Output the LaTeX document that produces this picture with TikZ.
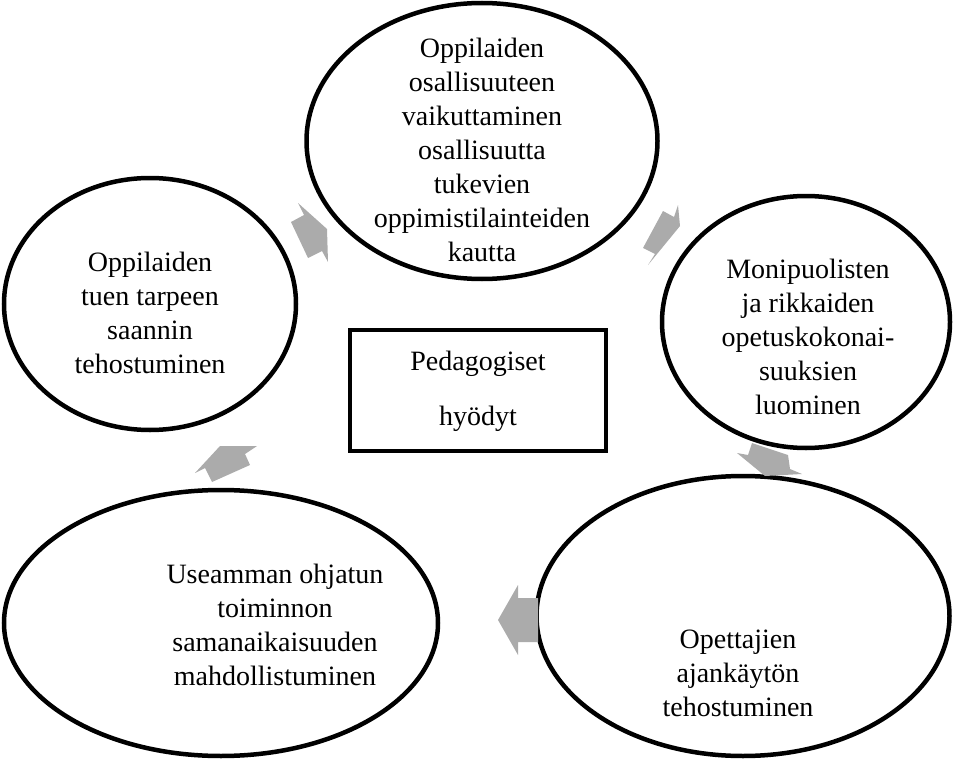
\documentclass[tikz,border=0pt]{standalone}
\usepackage{fontspec}
\setmainfont{Liberation Serif}
\usetikzlibrary{shapes.geometric}
\tikzset{
  bubble/.style={ellipse, draw=black, line width=4.5pt, inner sep=0pt},
  celltext/.style={align=center, font=\fontsize{28}{34}\selectfont, inner sep=0pt},
  cyclearrow/.style={fill=black!33, draw=none},
  centerbox/.style={draw=black, line width=4pt, minimum width=256pt, minimum height=121pt, inner sep=0pt}
}
\begin{document}
\begin{tikzpicture}[x=1pt, y=-1pt]
\useasboundingbox (0,0) rectangle (954,760);

% ellipses of the cycle
\node[bubble, minimum width=351pt, minimum height=276pt] (top) at (482,141) {};
\node[bubble, minimum width=292pt, minimum height=252pt] (left) at (150,304) {};
\node[bubble, minimum width=288pt, minimum height=252pt] (right) at (806,322) {};
\node[bubble, minimum width=413pt, minimum height=280pt] (botright) at (743,616) {};
\node[bubble, minimum width=434pt, minimum height=266pt] (botleft) at (221,623) {};

% texts inside the ellipses
\node[celltext] (ttop) at (482,150) {Oppilaiden\\osallisuuteen\\vaikuttaminen\\osallisuutta\\tukevien\\oppimistilainteiden\\kautta};
\node[celltext] (tleft) at (150,313) {Oppilaiden\\tuen tarpeen\\saannin\\tehostuminen};
\node[celltext] (tright) at (808,337) {Monipuolisten\\ja rikkaiden\\opetuskokonai-\\suuksien\\luominen};
\node[celltext] (tbotright) at (738,673) {Opettajien\\ajankäytön\\tehostuminen};
\node[celltext] (tbotleft) at (275,625) {Useamman ohjatun\\toiminnon\\samanaikaisuuden\\mahdollistuminen};

% central box
\node[centerbox] (center) at (478,390.5) {};
\node[celltext] (c1) at (478,364) {Pedagogiset};
\node[celltext] (c2) at (478,419) {hyödyt};

% block arrows between the ellipses
\fill[cyclearrow] (298,203) -- (327,229) -- (328,262) -- (322,251) -- (308,258) -- (291,222) -- (304,215) -- cycle;
\fill[cyclearrow] (678,205) -- (680,226) -- (648,265) -- (655,254) -- (643,248) -- (663,211) -- (674,217) -- cycle;
\fill[cyclearrow] (752,443) -- (788,455) -- (790,469) -- (802,474) -- (765,476) -- (737,453) -- (748,455) -- cycle;
\fill[cyclearrow] (498,620) -- (518,585) -- (518,598) -- (538,598) -- (538,642) -- (518,642) -- (518,655) -- cycle;
\fill[cyclearrow] (220,446) -- (257,446) -- (245,454) -- (250,465) -- (212,482) -- (205,468) -- (195,473) -- cycle;
\end{tikzpicture}
\end{document}
